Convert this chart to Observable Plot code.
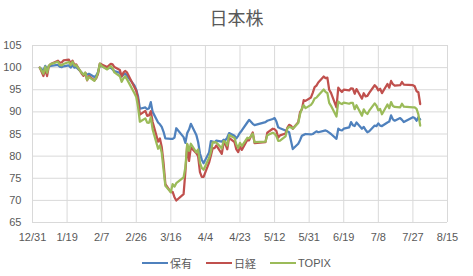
<!DOCTYPE html>
<html>
<head>
<meta charset="utf-8">
<script src="https://cdn.jsdelivr.net/npm/d3@7"></script>
<script src="https://cdn.jsdelivr.net/npm/@observablehq/plot@0.6"></script>
<style>
  html, body { margin: 0; padding: 0; background: #fff; }
  #wrap { width: 473px; height: 276px; position: relative; overflow: hidden; }
  #title { height: 35px; line-height: 35px; text-align: center; font-family: "Noto Sans CJK JP", sans-serif; font-size: 18px; color: #595959; }
  #legend { height: 26px; display: flex; justify-content: center; align-items: center; font-family: "Liberation Sans", "Noto Sans CJK JP", sans-serif; font-size: 11px; color: #595959; }
  .item { display: flex; align-items: center; margin: 0 7px; }
  .sw { width: 26px; height: 2.25px; margin-right: 2px; }
  svg { display: block; }
</style>
</head>
<body>
<div id="wrap">
  <div id="title">日本株</div>
  <div id="chart"></div>
  <div id="legend"></div>
</div>
<script>
const seriesNames = ["保有", "日経", "TOPIX"];
const seriesColors = ["#4F81BD", "#C0504D", "#9BBB59"];

const dates = [
"2020-01-04","2020-01-06","2020-01-07","2020-01-08","2020-01-09","2020-01-10",
"2020-01-14","2020-01-15","2020-01-16","2020-01-17",
"2020-01-20","2020-01-21","2020-01-22","2020-01-23","2020-01-24",
"2020-01-27","2020-01-28","2020-01-29","2020-01-30","2020-01-31",
"2020-02-03","2020-02-04","2020-02-05","2020-02-06","2020-02-07",
"2020-02-10","2020-02-12","2020-02-13","2020-02-14",
"2020-02-17","2020-02-18","2020-02-19","2020-02-20","2020-02-21",
"2020-02-25","2020-02-26","2020-02-27","2020-02-28",
"2020-03-02","2020-03-03","2020-03-04","2020-03-05","2020-03-06",
"2020-03-09","2020-03-10","2020-03-11","2020-03-12","2020-03-13",
"2020-03-16","2020-03-17","2020-03-18","2020-03-19",
"2020-03-23","2020-03-24","2020-03-25","2020-03-26","2020-03-27",
"2020-03-30","2020-03-31","2020-04-01","2020-04-02","2020-04-03",
"2020-04-06","2020-04-07","2020-04-08","2020-04-09","2020-04-10",
"2020-04-13","2020-04-14","2020-04-15","2020-04-16","2020-04-17",
"2020-04-20","2020-04-21","2020-04-22","2020-04-23","2020-04-24",
"2020-04-27","2020-04-28","2020-04-30","2020-05-01",
"2020-05-07","2020-05-08",
"2020-05-11","2020-05-12","2020-05-13","2020-05-14","2020-05-15",
"2020-05-18","2020-05-19","2020-05-20","2020-05-21","2020-05-22",
"2020-05-25","2020-05-26","2020-05-27","2020-05-28","2020-05-29",
"2020-06-01","2020-06-02","2020-06-03","2020-06-04","2020-06-05",
"2020-06-08","2020-06-09","2020-06-10","2020-06-11","2020-06-12",
"2020-06-15","2020-06-16","2020-06-17","2020-06-18","2020-06-19",
"2020-06-22","2020-06-23","2020-06-24","2020-06-25","2020-06-26",
"2020-06-29","2020-06-30","2020-07-01","2020-07-02","2020-07-03",
"2020-07-06","2020-07-07","2020-07-08","2020-07-09","2020-07-10",
"2020-07-13","2020-07-14","2020-07-15","2020-07-16","2020-07-17",
"2020-07-20","2020-07-21","2020-07-22",
"2020-07-27","2020-07-28","2020-07-29","2020-07-30","2020-07-31"
];

const hoyu = [
100,99.3,100.4,99.6,100.3,100.4,
100.6,100.2,100.1,100.3,
100.5,100.0,100.6,100.0,100.1,
98.9,98.3,98.7,98.4,98.6,
97.9,98.2,99.0,100.6,100.3,
99.8,100.0,99.6,99.2,
98.8,98.0,98.4,98.6,98.1,
96.0,95.0,93.5,90.7,
91.0,90.6,90.8,92.2,90.0,
87.6,87.2,86.6,85.5,84.0,
83.9,83.9,84.2,86.3,
84.3,83.0,85.2,86.0,87.3,
84.8,83.2,80.6,79.2,78.4,
80.8,83.4,83.3,83.1,83.5,
83.3,83.7,83.6,84.2,85.2,
84.6,84.0,84.6,85.3,85.8,
87.6,88.2,87.3,87.0,
87.7,88.0,
88.4,88.6,87.8,86.5,86.3,
85.8,85.6,85.4,83.5,81.6,
82.8,83.6,84.6,84.8,85.0,
84.9,85.0,85.3,85.6,85.4,
85.7,85.8,85.6,85.3,85.0,
83.9,86.2,85.9,85.8,86.2,
86.5,87.7,87.0,86.8,87.6,
86.2,86.6,85.9,85.4,85.6,
86.9,86.8,87.4,86.9,86.8,
87.6,87.8,89.2,88.3,88.0,
88.6,88.2,87.7,
88.8,88.6,88.0,88.8,88.3
];

const nikkei = [
100,98.09,99.66,98.09,100.35,100.82,
101.56,101.10,101.17,101.63,
101.80,100.88,101.58,100.59,100.72,
98.68,98.14,98.83,97.13,98.09,
97.11,97.58,98.58,100.92,100.73,
100.12,100.86,100.72,100.13,
99.44,98.04,98.92,99.25,98.86,
95.56,94.80,92.78,89.37,
90.23,89.12,89.19,90.16,87.71,
83.27,83.98,82.07,78.45,73.68,
71.87,71.91,70.71,69.97,
71.39,76.48,82.63,78.90,81.96,
80.67,79.97,76.37,75.32,75.33,
78.52,80.11,81.81,81.78,82.42,
80.50,83.01,82.64,81.54,84.11,
83.14,81.50,80.90,82.13,81.42,
83.63,83.58,85.36,82.93,
83.17,85.30,
86.19,86.09,85.67,84.18,84.70,
85.11,86.38,87.06,86.88,86.18,
87.68,89.92,90.54,92.64,92.48,
93.26,94.37,95.59,95.94,96.65,
97.98,97.61,97.75,95.00,94.29,
91.01,95.46,94.92,94.50,95.02,
94.85,95.32,95.26,94.10,95.16,
92.98,94.22,93.51,93.61,94.29,
96.02,95.60,94.85,95.23,94.23,
96.31,95.48,96.99,96.25,95.94,
96.03,96.74,96.17,
96.02,95.78,94.68,94.43,91.77
];

const topix = [
100,98.61,100.21,98.84,100.45,100.80,
101.32,100.61,100.50,100.82,
101.27,100.58,101.33,100.46,100.54,
98.82,98.39,98.88,97.20,97.86,
97.02,97.75,98.86,100.91,100.36,
99.59,100.34,99.86,98.91,
98.05,96.79,97.61,98.01,97.29,
94.19,93.36,91.09,87.77,
88.54,87.58,87.54,88.75,86.05,
81.67,82.41,80.74,76.97,73.30,
71.82,73.68,73.11,73.88,
75.20,77.47,82.76,81.20,82.80,
80.87,81.51,78.48,77.33,76.91,
79.57,80.93,83.10,83.14,83.10,
81.75,83.40,83.19,82.38,84.78,
84.09,82.62,81.84,83.01,82.28,
84.15,84.01,85.05,83.15,
83.27,84.72,
85.28,85.06,84.52,83.46,83.52,
84.46,86.23,86.65,86.48,86.21,
87.48,89.47,90.74,91.52,90.84,
91.58,92.16,93.00,93.22,93.69,
95.06,94.51,94.28,92.03,91.36,
88.93,92.33,91.97,91.78,92.11,
91.84,92.04,92.01,90.60,91.49,
89.15,90.55,89.86,89.52,90.27,
91.92,91.39,90.33,90.65,89.45,
91.68,90.83,92.21,91.32,91.11,
91.03,91.83,91.17,
91.03,91.00,90.67,89.43,86.91
];

const xTickLabels = ["2019-12-31","2020-01-19","2020-02-07","2020-02-26","2020-03-16","2020-04-04","2020-04-23","2020-05-12","2020-05-31","2020-06-19","2020-07-08","2020-07-27","2020-08-15"];
const yTicks = [65, 70, 75, 80, 85, 90, 95, 100, 105];

const parse = d3.utcParse("%Y-%m-%d");
const xTicks = xTickLabels.map(parse);
const allSeries = [hoyu, nikkei, topix];
const rows = [];
allSeries.forEach((vals, si) => {
  vals.forEach((v, i) => rows.push({date: parse(dates[i]), value: v, series: seriesNames[si]}));
});

const chart = Plot.plot({
  width: 473,
  height: 215,
  marginTop: 10,
  marginBottom: 28,
  marginLeft: 32,
  marginRight: 26,
  style: {fontFamily: "'Liberation Sans', 'Noto Sans CJK JP', sans-serif", fontSize: "11px", color: "#595959", background: "#fff"},
  x: {type: "utc", domain: [xTicks[0], xTicks[xTicks.length - 1]], label: null},
  y: {domain: [65, 105], label: null},
  color: {domain: seriesNames, range: seriesColors},
  marks: [
    Plot.gridX(xTicks, {stroke: "#d9d9d9", strokeOpacity: 1, strokeWidth: 1}),
    Plot.gridY(yTicks, {stroke: "#d9d9d9", strokeOpacity: 1, strokeWidth: 1}),
    Plot.axisX(xTicks, {tickSize: 0, tickPadding: 11, tickFormat: d3.utcFormat("%-m/%-d"), label: null, fill: "#595959"}),
    Plot.axisY(yTicks, {tickSize: 0, tickPadding: 11, label: null, fill: "#595959"}),
    ...seriesNames.map((name, si) => Plot.line(rows.filter(r => r.series === name), {
      x: "date", y: "value", stroke: seriesColors[si], strokeWidth: 2.25, strokeLinejoin: "round", strokeLinecap: "round"
    }))
  ]
});
document.getElementById("chart").appendChild(chart);

const legend = document.getElementById("legend");
seriesNames.forEach((name, i) => {
  const item = document.createElement("div");
  item.className = "item";
  const sw = document.createElement("div");
  sw.className = "sw";
  sw.style.background = seriesColors[i];
  const t = document.createElement("span");
  t.textContent = name;
  item.appendChild(sw);
  item.appendChild(t);
  legend.appendChild(item);
});
</script>
</body>
</html>
